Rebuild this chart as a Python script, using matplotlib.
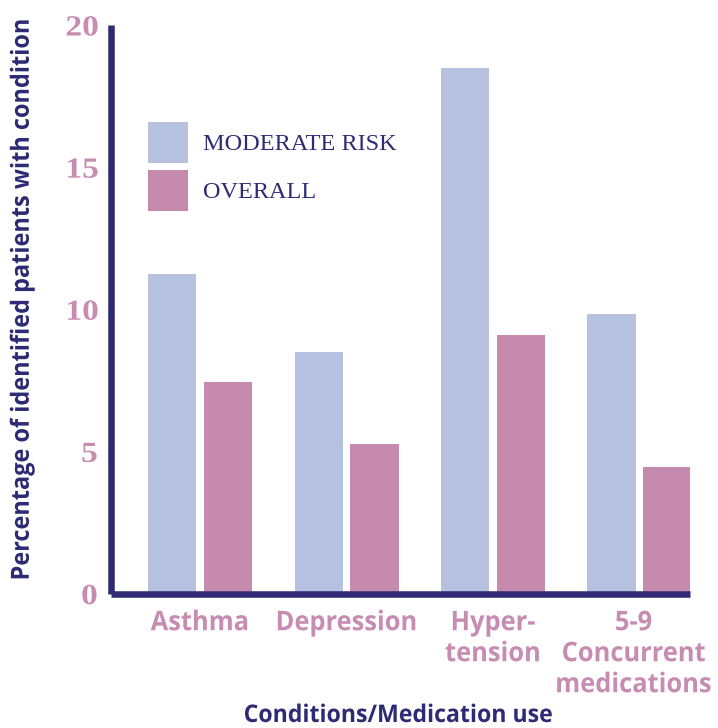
import matplotlib
matplotlib.use("Agg")
import matplotlib.pyplot as plt
import numpy as np
from matplotlib.patches import Patch
from matplotlib.patheffects import AbstractPathEffect
from matplotlib.transforms import Affine2D

categories = ["Asthma", "Depression", "Hyper-\ntension", "5-9\nConcurrent\nmedications"]
moderate_risk = [11.25, 8.5, 18.5, 9.85]
overall = [7.45, 5.25, 9.1, 4.45]
yticks = [0, 5, 10, 15, 20]
series_labels = ["MODERATE RISK", "OVERALL"]

navy = "#2e2b74"
blue = "#b6c1df"
pink = "#c58aad"
pinktext = "#c78cb2"

sansb = ["Open Sans", "DejaVu Sans"]
serif = ["Liberation Serif", "DejaVu Serif"]


class Condense(AbstractPathEffect):
    """Horizontally scale text glyphs around each line's centre."""
    def __init__(self, sx=0.8):
        super().__init__()
        self.sx = sx

    def draw_path(self, renderer, gc, tpath, affine, rgbFace=None):
        v = tpath.vertices
        c = (v[:, 0].min() + v[:, 0].max()) / 2 if len(v) else 0.0
        t = Affine2D().translate(-c, 0).scale(self.sx, 1).translate(c, 0) + affine
        renderer.draw_path(gc, tpath, t, rgbFace)


fig = plt.figure(figsize=(7.18, 7.28), dpi=100)
ax = fig.add_axes([0.154, 0.1847, 0.807, 0.781])

x = np.arange(len(categories))
w = 0.328
off = 0.191
ax.bar(x - off, moderate_risk, width=w, color=blue, label=series_labels[0])
ax.bar(x + off, overall, width=w, color=pink, label=series_labels[1])

ax.set_xlim(-0.611, 3.345)
ax.set_ylim(0, 20)
for s in ["top", "right"]:
    ax.spines[s].set_visible(False)
for s in ["left", "bottom"]:
    ax.spines[s].set_color(navy)
    ax.spines[s].set_linewidth(4.7)
    ax.spines[s].set_capstyle("butt")

ax.set_yticks(yticks)
ax.set_yticklabels([str(t) for t in yticks], fontfamily=serif, fontweight="bold",
                   fontsize=21, color=pinktext)
for t in ax.get_yticklabels():
    t.set_path_effects([Condense(1.15)])
ax.tick_params(axis="y", length=0, pad=10)

# category labels at the bar-group centres
ax.set_xticks(x)
ax.set_xticklabels([])
ax.tick_params(axis="x", length=0)
cat_texts = []
for xi, lab in zip(x, categories):
    t = ax.annotate(lab, xy=(xi, 0), xycoords=("data", "axes fraction"),
                    xytext=(0, -12), textcoords="offset points",
                    ha="center", va="top", fontfamily=sansb, fontweight="bold",
                    fontsize=19.5, color=pinktext, linespacing=1.25,
                    annotation_clip=False)
    t.set_path_effects([Condense(0.94)])
    cat_texts.append(t)

yl = fig.text(0.031, 0.589, "Percentage of identified patients with condition", fontfamily=sansb,
              fontweight="bold", fontsize=18, color=navy, rotation=90,
              ha="center", va="center")
yl.set_path_effects([Condense(0.94)])
xl = fig.text(0.554, 1 - 722 / 728, "Conditions/Medication use", fontfamily=sansb,
              fontweight="bold", fontsize=17.5, color=navy, ha="center", va="baseline")
xl.set_path_effects([Condense(0.95)])

handles = [Patch(facecolor=blue, edgecolor="none"), Patch(facecolor=pink, edgecolor="none")]
leg = ax.legend(handles, series_labels, loc="upper left", bbox_to_anchor=(0.0645, 0.83),
                frameon=False, prop={"family": serif, "size": 17.5},
                handlelength=1.65, handleheight=2.22, handletextpad=0.6,
                labelspacing=0.3, borderaxespad=0, borderpad=0)
for t in leg.get_texts():
    t.set_color(navy)

# keep the category labels' boxes inside the canvas
fig.canvas.draw()
W = fig.bbox.width
for t in cat_texts:
    bb = t.get_window_extent()
    if bb.x1 > W - 1:
        shift_pts = (bb.x1 - (W - 1)) * 72.0 / fig.dpi
        t.xyann = (t.xyann[0] - shift_pts, t.xyann[1])

fig.savefig("out.png", dpi=100)
